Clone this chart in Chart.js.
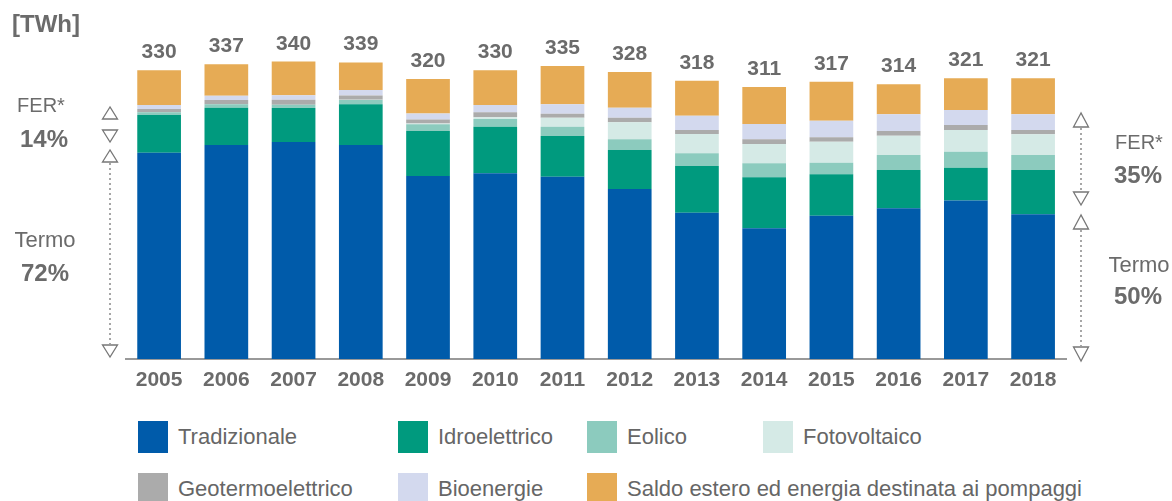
<!DOCTYPE html>
<html lang="it">
<head>
<meta charset="utf-8">
<title>Produzione e saldo estero</title>
<script src="https://cdn.jsdelivr.net/npm/chart.js@4.4.1/dist/chart.umd.min.js"></script>
<style>
    body { margin: 0; background: #fff; font-family: "Liberation Sans", Arial, sans-serif; }
    #wrap { position: relative; width: 1172px; height: 501px; overflow: hidden; }
    #mixChart { position: absolute; left: 0; top: 0; }
    .leg-item { position: absolute; display: flex; align-items: center; color: #666; font-size: 22px; white-space: nowrap; }
    .leg-box { width: 30px; height: 32px; margin-right: 10px; }
</style>
</head>
<body>
<div id="wrap">
    <canvas id="mixChart" width="1172" height="400"></canvas>
    <div id="legend"></div>
</div>
<script>
// ===========================
// Data (TWh)
// ===========================

const years = ['2005', '2006', '2007', '2008', '2009', '2010', '2011', '2012', '2013', '2014', '2015', '2016', '2017', '2018'];
const totals = [330, 337, 340, 339, 320, 330, 335, 328, 318, 311, 317, 314, 321, 321];

const tradizionale = [235.8, 244.6, 248.0, 244.6, 209.1, 212.2, 208.3, 194.3, 167.2, 149.4, 163.8, 172.2, 181.1, 165.5];
const idroelettrico = [43.1, 42.6, 38.9, 46.5, 51.4, 53.3, 46.5, 44.6, 53.4, 58.3, 47.3, 43.8, 37.5, 50.5];
const eolico = [3.0, 3.9, 3.8, 4.9, 7.7, 8.8, 10.7, 12.2, 14.5, 16.0, 13.3, 17.1, 18.3, 17.1];
const fotovoltaico = [0.0, 0.0, 0.0, 0.2, 1.0, 1.9, 10.3, 19.4, 22.1, 22.1, 24.0, 22.1, 24.8, 23.7];
const geotermoelettrico = [3.8, 4.9, 5.7, 4.9, 4.6, 5.7, 4.6, 5.3, 4.6, 5.4, 5.0, 5.4, 5.7, 4.9];
const bioenergie = [4.6, 4.9, 4.9, 6.2, 6.9, 8.3, 10.7, 11.4, 16.3, 17.5, 19.0, 19.1, 17.1, 17.9];
const saldoEstero = [39.7, 36.1, 38.7, 31.7, 39.3, 39.8, 43.9, 40.8, 39.9, 42.3, 44.6, 34.3, 36.5, 41.4];

const GREY = '#6b6b6b';
const FONT = '"Liberation Sans", Arial, sans-serif';

// ===========================
// Plugins
// ===========================

// totals above each stacked bar
const totalLabels = {
    id: 'totalLabels',
    afterDatasetsDraw(chart) {
        const ctx = chart.ctx;
        const meta = chart.getDatasetMeta(chart.data.datasets.length - 1);
        ctx.save();
        ctx.font = `bold 21px ${FONT}`;
        ctx.fillStyle = GREY;
        ctx.textAlign = 'center';
        ctx.textBaseline = 'alphabetic';
        meta.data.forEach((bar, i) => {
            ctx.fillText(String(totals[i]), bar.x, bar.y - 12);
        });
        ctx.restore();
    }
};

function triangle(ctx, x, apexY, baseY) {
    ctx.beginPath();
    ctx.moveTo(x, apexY);
    ctx.lineTo(x - 7.5, baseY);
    ctx.lineTo(x + 7.5, baseY);
    ctx.closePath();
    ctx.stroke();
}

function dotted(ctx, x, y1, y2) {
    ctx.save();
    ctx.setLineDash([2, 3]);
    ctx.beginPath();
    ctx.moveTo(x, y1);
    ctx.lineTo(x, y2);
    ctx.stroke();
    ctx.restore();
}

// unit, share labels and range arrows at both sides
const sideNotes = {
    id: 'sideNotes',
    afterDraw(chart) {
        const ctx = chart.ctx;
        ctx.save();
        ctx.fillStyle = GREY;
        ctx.textBaseline = 'middle';

        ctx.textAlign = 'left';
        ctx.font = `bold 24px ${FONT}`;
        ctx.fillText('[TWh]', 12, 25);

        ctx.textAlign = 'center';
        ctx.font = `20px ${FONT}`;
        ctx.fillText('FER*', 41, 106);
        ctx.fillText('FER*', 1139, 143);
        ctx.font = `22px ${FONT}`;
        ctx.fillText('Termo', 45, 241);
        ctx.fillText('Termo', 1139, 266);
        ctx.font = `bold 24px ${FONT}`;
        ctx.fillText('14%', 44, 140);
        ctx.fillText('72%', 45, 274);
        ctx.fillText('35%', 1138, 176);
        ctx.fillText('50%', 1138, 297);

        ctx.strokeStyle = '#777';
        ctx.lineWidth = 1.3;
        // left
        triangle(ctx, 110, 107, 119);
        triangle(ctx, 110, 142, 130);
        triangle(ctx, 110, 150, 162);
        dotted(ctx, 110, 163, 344);
        triangle(ctx, 110, 357, 345);
        // right
        triangle(ctx, 1081, 113, 127);
        dotted(ctx, 1081, 128, 191);
        triangle(ctx, 1081, 205, 192);
        triangle(ctx, 1081, 215, 229);
        dotted(ctx, 1081, 230, 346);
        triangle(ctx, 1081, 361, 347);
        ctx.restore();
    }
};

// ===========================
// Chart
// ===========================

function series(label, data, color) {
    return {
        label: label,
        data: data,
        backgroundColor: color,
        borderWidth: 0,
        categoryPercentage: 0.65,
        barPercentage: 1
    };
}

const datasets = [
    series('Tradizionale', tradizionale, '#005BAA'),
    series('Idroelettrico', idroelettrico, '#009A7E'),
    series('Eolico', eolico, '#8CCBBE'),
    series('Fotovoltaico', fotovoltaico, '#D5EAE6'),
    series('Geotermoelettrico', geotermoelettrico, '#ABABAB'),
    series('Bioenergie', bioenergie, '#D3D9EE'),
    series('Saldo estero ed energia destinata ai pompaggi', saldoEstero, '#E6AB55')
];

const mixChart = new Chart(document.getElementById('mixChart'), {
    type: 'bar',
    data: { labels: years, datasets: datasets },
    options: {
        responsive: false,
        animation: false,
        layout: { padding: { left: 125.5, right: 105.3, top: 9, bottom: 0 } },
        plugins: {
            legend: { display: false },
            tooltip: { enabled: false }
        },
        scales: {
            x: {
                stacked: true,
                grid: { display: false, drawTicks: false },
                border: { display: true, color: '#999', width: 2 },
                ticks: {
                    color: GREY,
                    font: { family: FONT, size: 21, weight: 'bold' },
                    padding: 9,
                    maxRotation: 0,
                    autoSkip: false
                },
                afterFit(scale) { scale.height = 41; }
            },
            y: {
                stacked: true,
                display: false,
                min: 0,
                max: 400
            }
        }
    },
    plugins: [totalLabels, sideNotes]
});

// ===========================
// Legend
// ===========================

const legendSpots = [
    [138, 421], [398, 421], [587, 421], [763, 421],
    [138, 473], [398, 473], [587, 473]
];

const legendEl = document.getElementById('legend');
mixChart.data.datasets.forEach((ds, i) => {
    const item = document.createElement('div');
    item.className = 'leg-item';
    item.style.left = legendSpots[i][0] + 'px';
    item.style.top = legendSpots[i][1] + 'px';
    item.innerHTML = `<span class="leg-box" style="background:${ds.backgroundColor}"></span><span>${ds.label}</span>`;
    legendEl.appendChild(item);
});
</script>
</body>
</html>
